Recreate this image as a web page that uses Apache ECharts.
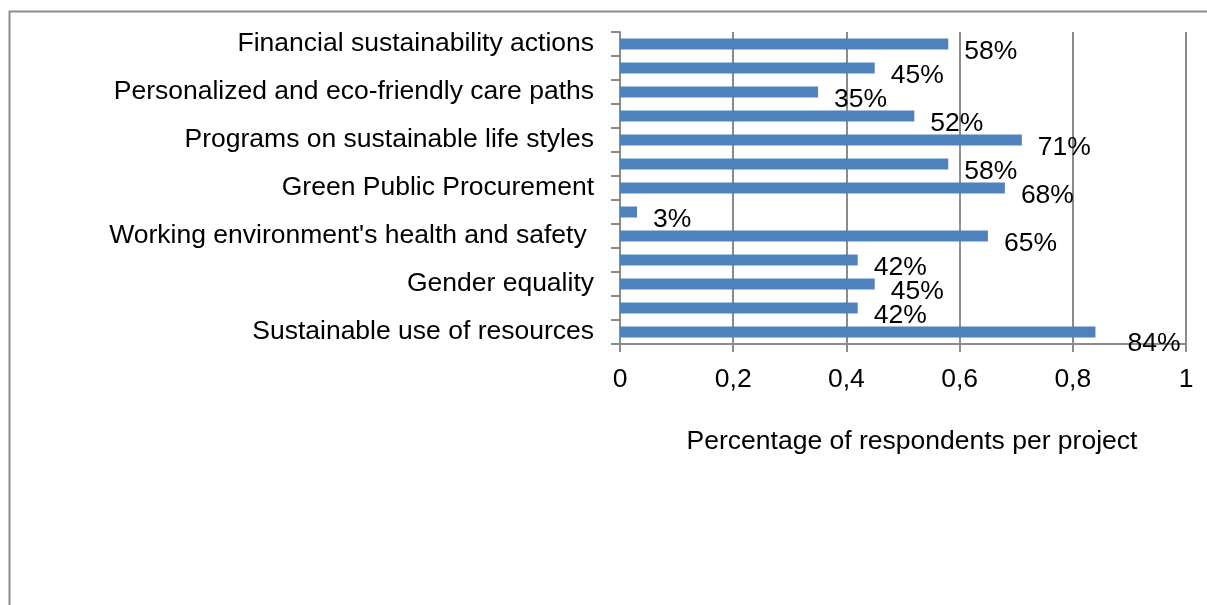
<!DOCTYPE html>
<html>
<head>
<meta charset="utf-8">
<script src="https://cdn.jsdelivr.net/npm/echarts@6/dist/echarts.min.js"></script>
<style>
html,body{margin:0;padding:0;background:#fff;}
#chart{width:1207px;height:605px;}
</style>
</head>
<body>
<div id="chart"></div>
<script>
// Categories from bottom to top (unlabeled rows have no visible name in the source)
const categories = [
  "Sustainable use of resources",
  "",
  "Gender equality",
  "",
  "Working environment's health and safety ",
  "",
  "Green Public Procurement",
  "",
  "Programs on sustainable life styles",
  "",
  "Personalized and eco-friendly care paths",
  "",
  "Financial sustainability actions"
];
const values = [0.84, 0.42, 0.45, 0.42, 0.65, 0.03, 0.68, 0.58, 0.71, 0.52, 0.35, 0.45, 0.58];
const xTicks = { min: 0, max: 1, interval: 0.2 };
const axisTitle = "Percentage of respondents per project";

const chart = echarts.init(document.getElementById('chart'));
const font = "'Liberation Sans', Arial, sans-serif";
const fs = 26.5;
const seriesData = values.map((v, i) => {
  const item = { value: v };
  if (v >= 0.8) item.label = { offset: [32, 12] };
  return item;
});
chart.setOption({
  backgroundColor: '#fff',
  animation: false,
  graphic: [{
    type: 'rect',
    shape: { x: 9.5, y: 11.5, width: 1400, height: 800 },
    style: { fill: 'none', stroke: '#8c8c8c', lineWidth: 2 },
    silent: true
  }],
  grid: { left: 620, right: 21, top: 32, bottom: 261 },
  xAxis: {
    type: 'value',
    min: xTicks.min, max: xTicks.max, interval: xTicks.interval,
    name: axisTitle,
    nameLocation: 'middle',
    nameGap: 84,
    nameTextStyle: { fontFamily: font, fontSize: fs, color: '#000', padding: [0, 0, 0, 18] },
    axisLine: { show: true, lineStyle: { color: '#8c8c8c', width: 2 } },
    axisTick: { show: true, length: 8, lineStyle: { color: '#8c8c8c', width: 2 } },
    axisLabel: {
      fontFamily: font, fontSize: fs, color: '#000', margin: 22,
      formatter: v => String(Math.round(v * 10) / 10).replace('.', ',')
    },
    splitLine: { show: true, lineStyle: { color: '#8c8c8c', width: 2 } }
  },
  yAxis: {
    type: 'category',
    data: categories,
    axisLine: { show: true, lineStyle: { color: '#8c8c8c', width: 2 } },
    axisTick: { show: true, length: 9, interval: 0, lineStyle: { color: '#8c8c8c', width: 2 } },
    axisLabel: { interval: 0, fontFamily: font, fontSize: fs, color: '#000', margin: 26, padding: [5, 0, 0, 0] }
  },
  series: [{
    type: 'bar',
    data: seriesData,
    barWidth: 11,
    itemStyle: { color: '#4F81BD' },
    label: {
      show: true, position: 'right', distance: 0, offset: [16, 8],
      fontFamily: font, fontSize: fs, color: '#000',
      formatter: p => Math.round(p.value * 100) + '%'
    }
  }]
});
</script>
</body>
</html>
